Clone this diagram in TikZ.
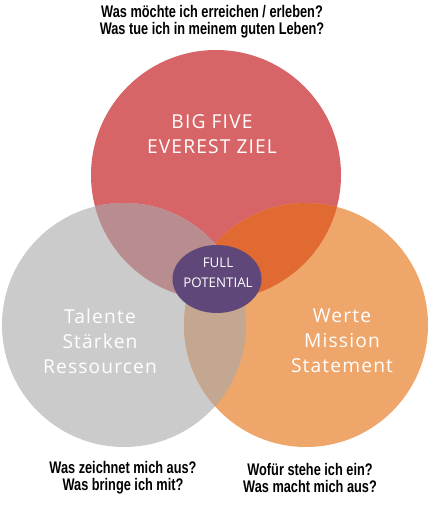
\documentclass[tikz,border=0pt]{standalone}
\usepackage{fontspec}
\usepackage{tikz}
\setmainfont{Open Sans}
\newfontfamily\askfont[FakeStretch=0.76]{Liberation Sans}
\newfontfamily\ringfont[LetterSpace=6]{Open Sans}
\definecolor{VennRed}{HTML}{D76568}
\definecolor{VennGray}{HTML}{CBCBCB}
\definecolor{VennOrange}{HTML}{EFA66A}
\definecolor{VennPurple}{HTML}{5F4779}
\definecolor{VennRedGray}{HTML}{B98D8F}
\definecolor{VennRedOrange}{HTML}{E16A32}
\definecolor{VennGrayOrange}{HTML}{C4A791}

\begin{document}
\begin{tikzpicture}[x=0.75pt,y=-0.75pt,
    ask/.style={align=center,font=\askfont\bfseries\fontsize{12.6}{12.8}\selectfont},
    ring/.style={align=center,text=white,font=\ringfont\fontsize{14.4}{18.8}\selectfont}]
      \useasboundingbox (0,0) rectangle (429,507);
      \coordinate (goal) at (216,175);
      \coordinate (talent) at (124,325);
      \coordinate (value) at (306,325);
      \fill[VennRed] (goal) circle (125);
      \fill[VennGray] (talent) circle (122);
      \fill[VennOrange] (value) circle (122);
      \begin{scope}
        \clip (goal) circle (125);
        \fill[VennRedGray] (talent) circle (122);
        \fill[VennRedOrange] (value) circle (122);
      \end{scope}
      \begin{scope}
        \clip (talent) circle (122);
        \fill[VennGrayOrange] (value) circle (122);
      \end{scope}
      \fill[VennPurple] (217,279) ellipse (44.5 and 34);
      \node[ring] (goaltext) at (212,134) {BIG FIVE\\EVEREST ZIEL};
      \node[ring] (talenttext) at (100,341) {Talente\\Stärken\\Ressourcen};
      \node[ring] (valuetext) at (342,341) {Werte\\Mission\\Statement};
      \node[ring,font=\fontsize{10}{15}\selectfont] (full) at (218,273) {FULL\\POTENTIAL};
      \node[ask] (goalask) at (212,22) {Was möchte ich erreichen / erleben?\\Was tue ich in meinem guten Leben?};
      \node[ask] (talentask) at (123,478) {Was zeichnet mich aus?\\Was bringe ich mit?};
      \node[ask] (valueask) at (310,478) {Wofür stehe ich ein?\\Was macht mich aus?};
    \end{tikzpicture}
\end{document}
